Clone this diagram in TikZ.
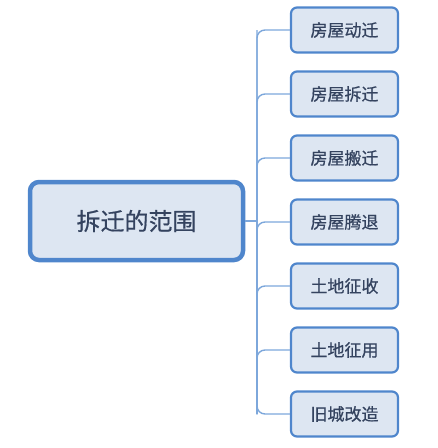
\documentclass[tikz,border=0pt]{standalone}
\usepackage{fontspec}
\newfontfamily\cjk[FakeBold=0.6]{Noto Sans CJK SC}
\usetikzlibrary{positioning}

\definecolor{boxline}{HTML}{4F86CC}
\definecolor{boxfill}{HTML}{DDE6F2}
\definecolor{boxtext}{HTML}{34435F}
\definecolor{linkline}{HTML}{7DA7DB}

\begin{document}
\begin{tikzpicture}[
    x=1pt, y=-1pt,
    rootbox/.style={rectangle, draw=boxline, line width=4.5pt, fill=boxfill, rounded corners=9pt, minimum width=213pt, minimum height=78pt, text=boxtext, font=\cjk\fontsize{24}{28}\selectfont},
    leafbox/.style={rectangle, draw=boxline, line width=2.2pt, fill=boxfill, rounded corners=6pt, minimum width=107pt, minimum height=45pt, text=boxtext, font=\cjk\fontsize{17}{20}\selectfont},
    link/.style={draw=linkline, line width=1.4pt, rounded corners=8pt}
]
\useasboundingbox (0,0) rectangle (438,448);

% Left: root
\node[rootbox] (scope) at (136.5,221) {拆迁的范围};

% Right: leaves
\foreach \name/\y/\txt in {move/30/房屋动迁, demolish/94/房屋拆迁, relocate/158/房屋搬迁, vacate/222/房屋腾退, expropriate/286/土地征收, requisition/350/土地征用, renewal/414/旧城改造}
    \node[leafbox] (\name) at (344.5,\y) {\txt};

% Spine
\coordinate (spinetop) at (257,30);
\coordinate (spinebot) at (257,414);

% Connect
\draw[link] (scope.east) -- (scope.east -| spinetop);
\foreach \name in {move, demolish, relocate, vacate, expropriate, requisition}
    \draw[link] (\name.west) -| (spinebot);
\draw[link] (renewal.west) -| (spinetop);

\end{tikzpicture}
\end{document}
